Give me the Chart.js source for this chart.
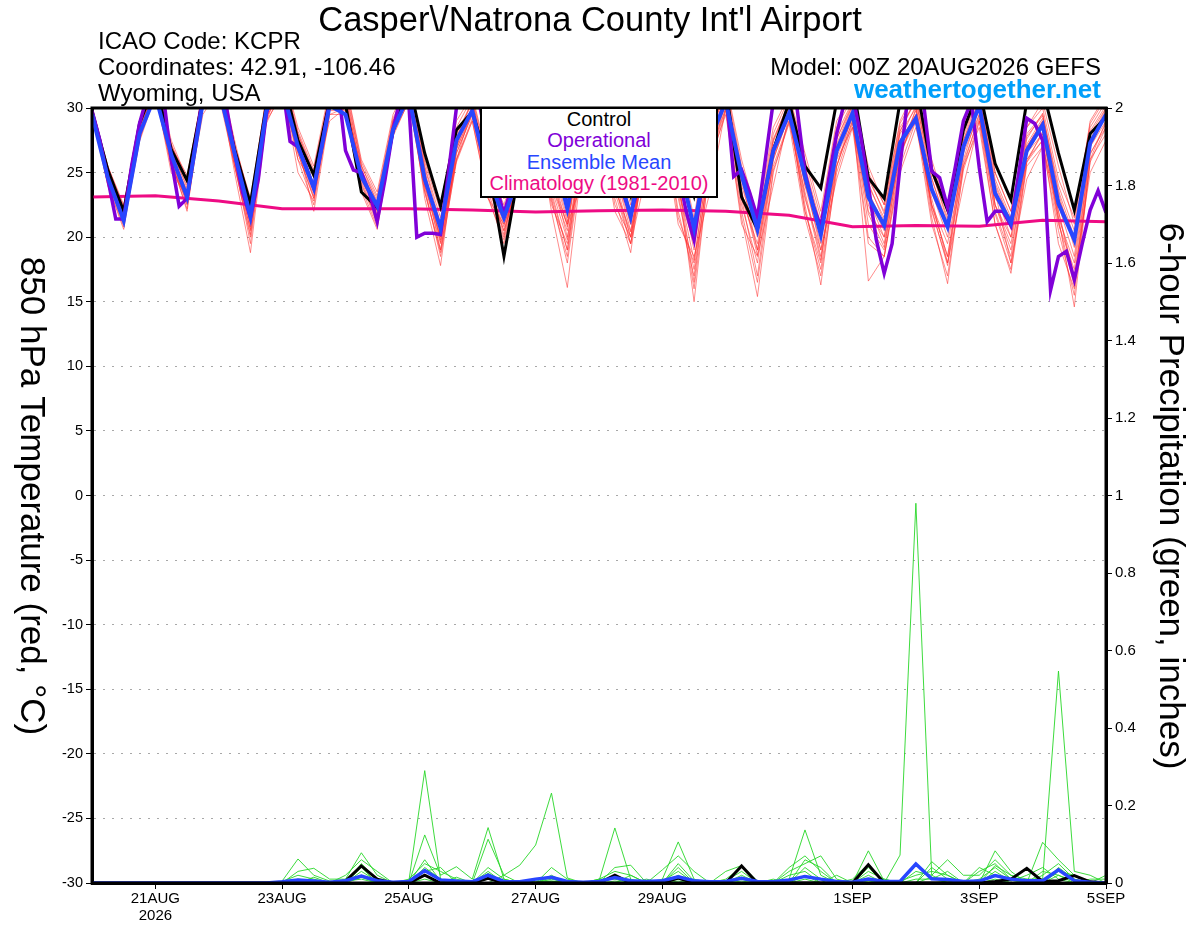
<!DOCTYPE html>
<html lang="en">
<head>
<meta charset="UTF-8">
<title>Casper\/Natrona County Int'l Airport - GEFS</title>
<script src="https://cdn.jsdelivr.net/npm/chart.js"></script>
<style>
  html, body { margin: 0; padding: 0; background: #fff; }
  #wrap { position: relative; width: 1200px; height: 927px; font-family: "Liberation Sans", Arial, sans-serif; color: #000; }
  #wrap canvas { position: absolute; left: 0; top: 0; }
  .txt { position: absolute; white-space: nowrap; line-height: 1; }
  #title { left: 590px; top: 2px; font-size: 34.5px; transform: translateX(-50%); }
  .info { font-size: 24px; }
  .right { right: 99px; text-align: right; }
  #site { font-size: 26px; font-weight: bold; color: #009ffa; }
  .vtitle { position: absolute; writing-mode: vertical-rl; font-size: 35px; line-height: 1; white-space: nowrap; transform: translate(-50%, -50%); }
  #legend { position: absolute; left: 480px; top: 107px; width: 238px; height: 91px; box-sizing: border-box;
            border: 2px solid #000; background: #fff; font-size: 20px; line-height: 21.4px; text-align: center; }
</style>
</head>
<body>
<div id="wrap">
  <canvas id="meteogram" width="1200" height="927"></canvas>

  <!-- header -->
  <div id="title" class="txt">Casper\/Natrona County Int'l Airport</div>
  <div class="txt info" style="left:98px; top:29px;">ICAO Code: KCPR</div>
  <div class="txt info" style="left:98px; top:55px;">Coordinates: 42.91, -106.46</div>
  <div class="txt info" style="left:98px; top:81px;">Wyoming, USA</div>
  <div class="txt info right" style="top:55px;">Model: 00Z 20AUG2026 GEFS</div>
  <div id="site" class="txt right" style="top:76px;">weathertogether.net</div>

  <!-- axis titles (both read top to bottom) -->
  <div class="vtitle" style="left:33px; top:496px;">850 hPa Temperature (red, °C)</div>
  <div class="vtitle" style="left:1172px; top:496px;">6-hour Precipitation (green, inches)</div>

  <!-- legend -->
  <div id="legend">
    <div style="color:#000">Control</div>
    <div style="color:#8000d8">Operational</div>
    <div style="color:#2846ff">Ensemble Mean</div>
    <div style="color:#ee0b84">Climatology (1981-2010)</div>
  </div>
</div>

<script>
// time axis: forecast hours from 00Z 20AUG2026
const hours6 = Array.from({ length: 65 }, (_, i) => i * 6);    // GEFS 6-hourly output
const hours3 = Array.from({ length: 129 }, (_, j) => j * 3);   // operational 3-hourly output
const hours24 = Array.from({ length: 17 }, (_, d) => d * 24);  // climatology, daily at 00Z

const dateTickHours = [24, 72, 120, 168, 216, 288, 336, 384];
const dateTickLabels = [['21AUG', '2026'], '23AUG', '25AUG', '27AUG', '29AUG', '1SEP', '3SEP', '5SEP'];

// 850 hPa temperature (C), 6-hourly, groups = 00Z 06Z 12Z 18Z
const controlTemp = [
  29.8,25.2,22.0,28.8, 32.0,26.8,24.4,30.8, 32.5,26.8,22.6,30.2, 32.5,27.5,24.8,30.6,
  30.3,23.5,22.3,28.2, 32.0,26.5,22.4,28.3, 29.7,25.7,18.5,25.5, 31.0,28.0,23.5,30.0,
  32.0,28.0,23.3,30.0, 32.0,27.0,23.2,29.0, 31.5,23.1,20.6,26.7, 30.5,25.5,23.8,30.5,
  32.0,24.6,23.0,30.5, 32.0,25.2,22.1,28.3, 31.5,25.7,22.9,30.5, 31.5,26.5,22.1,28.0,
  29.3
];
const meanTemp = [
  29.5,24.6,21.3,28.0, 31.0,26.4,23.1,30.5, 31.5,26.5,21.6,29.8, 31.5,27.0,23.8,30.2,
  29.5,24.7,22.4,28.3, 31.0,24.5,20.7,27.5, 29.8,24.7,21.5,25.0, 29.0,27.0,22.2,28.0,
  30.5,26.0,21.6,28.0, 30.0,26.0,20.7,27.5, 30.5,24.8,20.6,26.7, 29.6,24.7,20.2,26.7,
  29.6,23.1,20.9,27.3, 29.2,23.7,20.8,27.0, 30.2,23.4,21.1,26.7, 28.7,22.6,19.8,27.3,
  29.5
];
// operational run, 3-hourly, one row per day (00Z ... 21Z)
const operationalTemp = [
  29.8,27.5,24.5,21.4,21.4,25.5,28.8,31.0,
  32.0,31.0,26.0,22.4,23.0,27.0,31.0,32.0,
  32.0,30.0,26.5,23.5,21.5,24.5,29.5,32.0,
  32.0,27.4,27.0,25.5,23.8,27.0,30.5,32.0,
  26.7,25.2,25.0,23.5,21.2,24.5,28.3,31.0,
  30.3,20.0,20.3,20.3,20.2,25.0,30.0,32.0,
  32.0,30.0,27.0,24.0,21.8,24.0,27.0,31.0,
  32.0,31.0,28.0,25.0,22.3,25.0,28.0,31.0,
  32.0,30.0,26.5,23.5,21.7,24.0,28.0,31.0,
  32.0,28.0,25.0,22.0,19.8,24.0,28.5,31.0,
  31.5,24.7,25.2,23.5,21.5,26.0,30.5,32.0,
  32.0,30.0,25.0,22.5,20.8,24.5,28.0,30.5,
  31.0,28.0,24.0,19.8,17.2,19.5,25.5,31.0,
  32.0,30.2,25.1,24.6,22.3,25.5,29.0,30.5,
  25.4,21.2,22.0,22.0,20.9,25.0,29.2,28.8,
  27.5,15.9,18.5,18.9,16.7,19.5,22.1,23.6,
  21.9
];
const climatologyTemp = [23.1, 23.2, 22.8, 22.2, 22.2, 22.2, 22.1, 21.95, 22.05, 22.1, 22.0, 21.7, 20.8, 20.9, 20.85, 21.3, 21.2];

// ensemble members, 6-hourly
const memberTemps = [
  [30.0,25.0,21.0,27.5, 31.5,26.0,22.5,30.0, 31.0,25.5,20.0,29.0, 31.0,26.5,23.0,29.5,
   30.0,24.0,21.5,28.0, 30.5,23.5,19.0,26.5, 29.5,24.0,20.5,24.5, 28.5,25.0,20.0,27.0,
   30.0,25.0,20.5,27.0, 29.5,24.5,15.0,26.0, 30.0,23.5,19.0,25.5, 29.0,23.0,19.0,25.5,
   29.0,22.0,20.0,26.5, 29.0,22.5,19.5,26.0, 30.0,22.5,20.0,26.0, 28.0,21.5,14.6,26.0, 29.0],
  [29.8,24.0,20.6,28.0, 32.0,27.0,23.0,31.0, 32.0,25.0,18.8,29.0, 32.0,27.5,24.0,30.5,
   30.5,24.5,22.0,28.5, 31.5,23.0,17.8,27.0, 30.0,23.5,20.0,25.5, 29.5,22.0,16.1,26.5,
   30.5,24.0,20.0,27.5, 30.5,23.5,19.5,27.0, 31.0,24.5,20.5,26.5, 30.0,24.0,21.0,27.0,
   30.0,23.5,21.0,27.5, 29.5,23.5,21.0,27.5, 30.5,23.0,21.5,27.0, 29.0,23.0,20.0,27.5, 30.0],
  [30.0,25.5,22.5,29.0, 32.5,27.5,24.5,31.5, 33.0,27.5,22.5,31.0, 33.0,28.5,25.5,31.5,
   32.0,26.0,23.5,29.5, 32.0,26.0,22.5,29.0, 31.0,26.0,23.0,27.0, 31.0,27.0,22.5,29.5,
   32.0,27.0,22.5,29.5, 31.5,27.0,21.5,29.0, 32.0,26.0,21.5,28.5, 31.0,26.5,22.0,29.0,
   31.0,25.5,22.5,29.0, 31.5,26.0,22.0,29.0, 32.0,25.0,22.0,28.5, 30.5,25.5,21.0,29.0, 31.0],
  [29.6,24.5,21.5,27.8, 31.0,26.0,22.0,30.5, 31.5,26.5,21.0,29.5, 32.0,27.0,22.0,29.5,
   29.5,23.5,20.6,28.0, 31.0,24.0,19.5,26.0, 29.0,23.0,19.8,25.0, 28.0,23.5,19.0,27.0,
   29.5,23.0,18.8,27.5, 30.0,22.0,17.0,26.0, 30.5,22.5,18.0,26.0, 29.5,22.0,17.5,25.5,
   29.5,16.6,18.5,26.0, 30.0,22.0,18.0,26.5, 29.5,22.5,19.0,26.0, 27.5,21.0,17.5,26.5, 28.5],
  [29.4,24.8,21.8,28.2, 31.5,26.5,23.5,30.5, 32.0,26.5,22.0,30.0, 31.5,27.5,23.5,30.0,
   30.5,25.0,22.5,28.5, 31.5,25.0,20.5,27.5, 30.0,25.0,21.5,25.5, 29.5,24.0,20.5,28.5,
   30.5,25.5,21.5,28.0, 30.5,25.5,20.5,27.5, 31.0,24.0,20.0,27.0, 30.0,24.5,20.5,27.0,
   29.5,24.0,21.5,28.0, 30.0,24.5,21.0,27.5, 31.0,24.0,21.0,27.0, 29.0,23.0,19.5,28.0, 29.5],
  [29.5,24.2,21.0,27.6, 31.2,25.5,22.8,30.2, 31.8,26.0,20.5,29.2, 31.8,26.5,23.0,30.4,
   30.0,24.2,21.0,28.2, 31.0,24.5,19.0,26.5, 29.5,24.5,21.0,24.5, 28.5,22.5,19.5,27.0,
   30.0,24.0,19.5,27.0, 30.0,24.5,16.5,26.5, 30.0,23.0,17.0,26.0, 29.5,22.5,16.3,25.5,
   29.0,21.0,19.0,26.5, 29.5,21.5,16.4,25.5, 29.5,22.0,18.5,26.5, 28.0,22.0,16.5,27.0, 29.5],
  [29.7,25.2,22.2,28.5, 31.8,27.0,24.8,31.0, 32.5,27.0,22.8,30.5, 32.5,28.0,25.0,31.0,
   31.5,25.5,23.0,29.0, 31.5,25.5,21.5,28.0, 30.5,25.5,22.5,26.5, 30.5,26.0,21.5,28.5,
   31.0,26.0,21.0,28.5, 31.0,26.0,20.0,28.0, 31.5,25.0,20.5,27.5, 30.5,25.5,21.0,28.0,
   30.5,24.5,22.0,28.5, 30.5,25.0,21.5,28.5, 31.5,24.5,21.5,28.0, 29.5,24.0,20.5,28.5, 30.5],
  [29.5,24.4,21.2,27.9, 31.4,26.2,22.6,30.4, 31.6,25.8,19.5,29.3, 31.6,27.0,23.5,30.2,
   30.2,24.6,21.5,28.3, 30.8,23.8,18.5,26.0, 29.2,23.8,20.5,25.0, 29.0,23.0,18.0,26.5,
   29.8,24.5,20.0,26.5, 29.8,23.0,17.5,26.0, 29.5,21.5,15.4,25.0, 29.0,23.5,18.5,26.0,
   28.5,23.0,20.0,27.0, 29.0,22.5,18.5,25.5, 28.5,21.0,17.2,25.5, 27.0,20.5,15.5,26.0, 28.0],
  [29.6,24.6,21.6,28.1, 31.6,26.8,23.8,30.6, 32.2,26.8,21.8,29.8, 32.2,27.2,24.0,30.8,
   30.8,25.2,22.8,28.8, 31.2,24.8,20.0,27.0, 30.2,24.5,21.8,25.8, 29.8,24.5,21.0,28.0,
   30.8,25.0,21.0,28.2, 30.8,24.8,19.0,27.2, 31.2,24.5,19.0,27.0, 30.2,24.0,19.5,27.2,
   30.2,23.0,20.5,27.5, 30.2,23.5,20.0,27.0, 30.8,23.5,20.0,27.2, 29.2,22.5,18.5,27.5, 29.8],
  [29.4,24.0,20.8,27.4, 31.0,25.8,22.2,30.0, 31.4,25.5,20.2,28.8, 31.4,26.0,22.5,29.8,
   29.8,23.8,20.8,27.8, 30.6,23.5,18.8,25.8, 29.0,23.2,19.5,24.8, 28.2,22.8,18.5,26.8,
   29.5,23.5,19.5,26.8, 29.6,23.5,16.0,25.6, 29.8,22.0,16.5,25.2, 28.8,21.5,17.0,25.0,
   28.8,20.0,18.5,25.5, 29.0,21.0,17.0,25.2, 29.0,21.0,17.5,25.8, 27.5,19.5,16.0,25.8, 28.5],
  [29.9,25.4,22.4,28.8, 32.2,27.2,24.2,31.2, 32.8,27.2,23.0,30.8, 32.8,28.2,25.2,31.2,
   31.8,25.8,23.2,29.2, 31.8,25.8,22.0,28.5, 30.8,25.8,23.0,26.8, 30.8,26.5,22.0,29.0,
   31.5,26.5,22.0,29.0, 31.2,26.5,21.0,28.5, 31.8,25.5,21.0,28.0, 30.8,26.0,21.5,28.5,
   30.8,25.0,22.5,28.8, 31.0,25.5,22.0,28.8, 31.8,25.0,22.0,28.5, 30.0,24.5,21.5,28.8, 30.8],
  [29.5,24.7,21.4,28.0, 31.3,25.0,23.2,30.3, 31.7,26.2,21.4,29.6, 31.7,25.0,22.8,30.1,
   30.4,24.8,21.8,28.4, 31.4,24.2,19.8,26.8, 29.6,24.0,20.8,25.2, 29.2,23.2,19.0,27.5,
   30.2,22.5,20.0,27.2, 30.2,21.5,18.0,26.8, 30.7,23.0,19.5,26.2, 29.7,22.0,18.0,26.8,
   29.7,22.5,19.5,27.0, 29.8,22.5,18.5,26.8, 30.2,22.5,19.5,26.5, 28.5,21.5,18.0,27.0, 29.0],
  [29.7,25.5,22.0,28.0, 31.0,25.5,23.0,29.5, 31.5,27.0,21.5,29.5, 32.0,26.0,24.0,29.0,
   30.0,25.5,21.0,28.0, 31.0,24.0,20.0,26.0, 30.0,23.0,21.0,24.0, 28.0,24.0,21.0,24.5,
   29.0,22.0,19.5,25.0, 29.0,21.0,18.5,23.5, 30.0,21.0,18.5,24.0, 29.5,24.5,19.0,24.5,
   28.5,19.5,18.5,25.0, 28.5,23.0,18.0,24.0, 29.0,23.5,18.0,24.5, 27.0,22.0,17.0,25.0, 27.5],
  [29.6,24.3,21.1,28.4, 31.7,26.4,23.6,30.9, 32.3,26.2,20.8,29.7, 32.4,27.8,24.6,30.6,
   31.0,25.0,22.2,29.0, 31.6,24.6,20.8,27.8, 30.4,24.8,21.6,26.0, 30.2,25.2,20.8,28.6,
   31.2,25.8,21.4,28.6, 31.0,25.8,20.2,27.8, 31.4,25.2,20.2,27.4, 30.4,25.0,20.6,27.6,
   30.4,24.2,21.2,28.2, 30.6,24.6,20.6,27.8, 31.2,23.8,20.6,27.6, 29.6,23.6,20.0,28.2, 30.2],
  [29.5,24.9,21.7,28.3, 31.9,26.6,24.0,30.8, 32.1,25.6,20.6,29.4, 32.0,26.8,23.2,30.6,
   30.6,24.4,21.2,28.6, 31.2,25.2,19.6,26.8, 29.8,24.2,20.2,25.6, 29.6,23.8,19.8,27.8,
   30.4,23.8,20.4,27.2, 30.4,24.0,18.2,26.6, 30.4,23.6,18.6,26.4, 29.8,23.2,18.2,26.2,
   29.2,21.8,19.2,26.4, 29.4,22.2,17.8,25.8, 29.2,21.8,18.0,25.8, 28.2,21.2,16.2,26.4, 28.8],
  [29.8,25.1,22.3,28.6, 32.0,27.2,24.4,31.2, 32.6,27.0,22.2,30.4, 32.6,28.0,24.8,31.0,
   31.2,25.6,22.6,28.9, 31.6,25.4,21.0,27.6, 30.6,25.2,22.2,26.2, 30.2,25.6,21.2,28.8,
   31.2,26.2,21.8,28.8, 30.8,26.2,20.6,27.8, 31.4,24.8,20.8,27.6, 30.4,25.2,20.8,27.6,
   30.2,24.8,21.8,28.2, 30.8,25.2,21.2,28.2, 31.2,24.2,21.2,27.8, 29.4,23.4,19.2,28.0, 30.0]
];

// 6-hour precipitation (inches), 6-hourly
const controlPrecip = [
  0,0,0,0, 0,0,0,0, 0,0,0,0, 0,0,0,0,
  .005,.044,.01,0, 0,.02,0,0, 0,.012,0,0, 0,0,0,0,
  0,.02,0,0, 0,.013,0,0, 0,.044,0,0, 0,0,0,0,
  0,.047,0,0, 0,0,0,0, 0,.004,.01,.038, .004,.006,.019,.003, 0
];
const meanPrecip = [
  0,0,0,0, 0,0,0,0, 0,0,0,0, .003,.008,.005,.002,
  .006,.018,.006,.002, .004,.032,.008,.005, .003,.02,.004,.003, .01,.015,.004,.002,
  .004,.014,.006,.004, .006,.016,.006,.003, .004,.012,.004,.003, .008,.017,.01,.004,
  .002,.01,.004,.004, .049,.011,.009,.004, .005,.019,.01,.006, .006,.034,.006,.002, 0
];
const memberPrecips = [
  [0,0,0,0, 0,0,0,0, 0,0,0,0, .005,.062,.02,.005,
   0,.03,.005,0, .005,.29,.01,0, 0,.02,.005,0, 0,.01,0,0,
   .005,.142,.01,0, 0,.02,0,0, 0,.01,0,0, .01,.137,.02,0,
   0,.02,0,.072, .98,.02,0,0, .01,.04,.01,0, 0,.02,.005,0, 0],
  [0,0,0,0, 0,0,0,0, 0,0,0,0, 0,.03,.038,.01,
   .01,.078,.02,0, 0,.124,.02,.042, .01,.143,.01,0, 0,.04,.01,0,
   0,.04,.046,0, .01,.106,.01,0, .03,.045,.005,0, .03,.05,.07,.01,
   0,.083,.005,0, 0,.055,.02,0, 0,.083,.03,0, .105,.06,.02,0, .02],
  [0,0,0,0, 0,0,0,0, 0,0,0,0, .004,.02,.01,0,
   .02,.06,.03,0, .01,.05,.03,.01, 0,.113,.02,.046, .098,.232,.013,0,
   .01,.03,.02,0, .034,.07,.03,0, .01,.04,0,0, .04,.07,.03,0,
   .01,.05,0,0, .03,.02,.06,.02, .02,.06,.02,.01, .01,.547,.03,.02, 0],
  [0,0,0,0, 0,0,0,0, 0,0,0,0, 0,.01,.005,0,
   0,.05,.01,0, 0,.04,.01,0, 0,.04,.01,0, 0,.02,0,0,
   0,.02,.005,0, 0,.05,.005,0, 0,.02,0,0, 0,.04,.01,0,
   0,.03,.01,0, .01,.01,.03,0, .03,.05,.01,0, .02,.05,.01,0, 0],
  [0,0,0,0, 0,0,0,0, 0,0,0,0, 0,0,.015,0,
   .005,.02,0,0, .005,.03,.04,0, 0,.01,0,0, 0,.015,0,0,
   .01,.01,0,0, .005,.03,0,0, .005,.03,0,0, .02,.03,0,0,
   .005,.01,0,0, 0,.04,.01,0, 0,.03,.005,.02, .04,.01,0,.01, .01],
  [0,0,0,0, 0,0,0,0, 0,0,0,0, 0,.005,0,0,
   0,.04,0,0, 0,.02,0,.015, 0,.03,0,0, .005,.005,0,0,
   0,.015,0,.01, 0,.04,0,0, 0,.015,0,.01, 0,.02,0,.02,
   0,.04,0,.005, .02,.03,.02,0, .04,.02,0,0, 0,.03,.02,0, 0],
  [0,0,0,0, 0,0,0,0, 0,0,0,0, 0,0,0,0,
   .005,.01,0,0, 0,.06,.005,0, 0,.025,0,0, 0,0,.005,0,
   0,.005,0,0, 0,.01,0,0, 0,.005,0,0, 0,.06,.04,0,
   0,.005,0,0, 0,.015,0,0, 0,.045,.02,0, .03,.02,0,0, 0],
  [0,0,0,0, 0,0,0,0, 0,0,0,0, 0,0,0,0,
   0,.015,0,0, 0,.01,0,0, 0,0,.02,0, 0,.005,0,0,
   0,0,.02,0, 0,.005,0,0, 0,0,0,0, 0,.01,0,0,
   0,0,.01,0, 0,0,.005,0, 0,.01,0,.01, 0,.04,.01,0, 0]
];

const COLORS = {
  control: '#000000',
  operational: '#8000d8',
  mean: '#2846ff',
  climatology: '#ee0b84',
  member: 'rgba(255, 45, 45, 0.55)',
  memberPrecip: 'rgba(40, 215, 40, 0.9)'
};

function series(label, hours, values, color, width, axis, order) {
  return {
    label: label,
    data: values.map((v, i) => ({ x: hours[i], y: v })),
    borderColor: color,
    borderWidth: width,
    yAxisID: axis,
    order: order,
    pointRadius: 0,
    tension: 0,
    fill: false,
    clip: 0
  };
}

const datasets = [
  series('Ensemble Mean', hours6, meanTemp, COLORS.mean, 4, 'y', 0),
  series('Operational', hours3, operationalTemp, COLORS.operational, 3.5, 'y', 1),
  series('Control', hours6, controlTemp, COLORS.control, 3, 'y', 2),
  series('Climatology (1981-2010)', hours24, climatologyTemp, COLORS.climatology, 3, 'y', 3),
  series('Mean precip', hours6, meanPrecip, COLORS.mean, 3.5, 'y2', 4),
  series('Control precip', hours6, controlPrecip, COLORS.control, 3, 'y2', 5)
];
memberPrecips.forEach((p, k) => datasets.push(series('Member precip ' + (k + 1), hours6, p, COLORS.memberPrecip, 1, 'y2', 10)));
memberTemps.forEach((t, k) => datasets.push(series('Member ' + (k + 1), hours6, t, COLORS.member, 1, 'y', 11)));

// black frame around the plot, drawn over the clipped lines
const framePlugin = {
  id: 'frame',
  afterDatasetsDraw(chart) {
    const { ctx, chartArea: a } = chart;
    ctx.save();
    ctx.strokeStyle = '#000';
    ctx.lineWidth = 3;
    ctx.strokeRect(a.left, a.top, a.right - a.left, a.bottom - a.top);
    ctx.restore();
  }
};

const tickFont = { family: '"Liberation Sans", Arial, sans-serif', size: 15 };

new Chart(document.getElementById('meteogram'), {
  type: 'line',
  data: { datasets: datasets },
  options: {
    responsive: false,
    animation: false,
    devicePixelRatio: 1,
    layout: { padding: { top: 108, left: 0, right: 0, bottom: 0 } },
    plugins: { legend: { display: false }, tooltip: { enabled: false } },
    scales: {
      x: {
        type: 'linear',
        min: 0,
        max: 384,
        afterBuildTicks: (s) => { s.ticks = dateTickHours.map(v => ({ value: v })); },
        afterFit: (s) => { s.height = 44; },
        ticks: {
          autoSkip: false,
          maxRotation: 0,
          padding: 1,
          color: '#000',
          font: { ...tickFont, size: 15, lineHeight: 1.15 },
          callback: (v) => dateTickLabels[dateTickHours.indexOf(v)]
        },
        grid: { drawOnChartArea: false, drawTicks: true, tickLength: 6, tickColor: '#000', tickWidth: 1 },
        border: { display: true, color: '#000', width: 3 }
      },
      y: {
        position: 'left',
        min: -30,
        max: 30,
        afterFit: (s) => { s.width = 92; },
        ticks: { stepSize: 5, padding: 3, color: '#000', font: { ...tickFont, size: 14.5 } },
        grid: { color: '#a8a8a8', lineWidth: 1, tickLength: 6, tickColor: '#000', tickWidth: 1 },
        border: { display: true, color: '#000', width: 3, dash: [2, 7] }
      },
      y2: {
        position: 'right',
        min: 0,
        max: 2,
        afterFit: (s) => { s.width = 94; },
        ticks: {
          stepSize: 0.2,
          padding: 3,
          color: '#000',
          font: { ...tickFont, size: 15 },
          callback: (v) => String(Math.round(v * 10) / 10)
        },
        grid: { drawOnChartArea: false, tickLength: 6, tickColor: '#000', tickWidth: 1 },
        border: { display: true, color: '#000', width: 3 }
      }
    }
  },
  plugins: [framePlugin]
});
</script>
</body>
</html>
